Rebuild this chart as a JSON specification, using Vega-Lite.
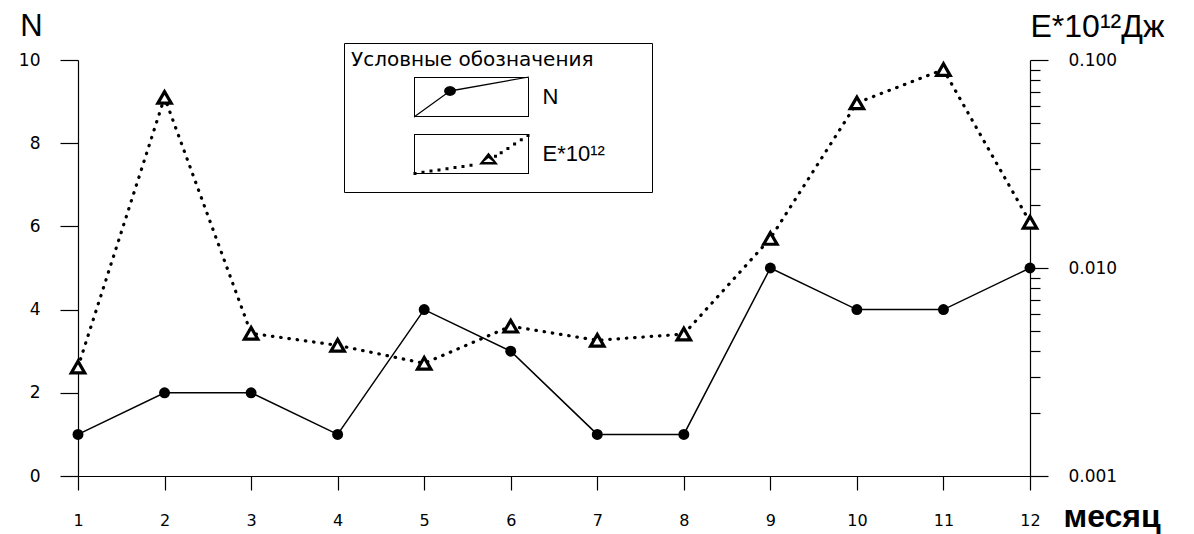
{
  "$schema": "https://vega.github.io/schema/vega-lite/v6.json",
  "width": 952,
  "height": 416,
  "autosize": {"type": "none"},
  "padding": {"left": 78, "top": 60, "right": 164, "bottom": 58},
  "background": "white",
  "config": {
    "view": {"stroke": null},
    "axis": {
      "grid": false,
      "domainColor": "black",
      "tickColor": "black",
      "labelColor": "black",
      "titleColor": "black",
      "labelFont": "DejaVu Sans",
      "domainWidth": 1.2,
      "tickWidth": 1.2
    }
  },
  "data": {
    "values": [
      {"month": 1, "N": 1, "E": 0.00334},
      {"month": 2, "N": 2, "E": 0.0661},
      {"month": 3, "N": 2, "E": 0.00485},
      {"month": 4, "N": 1, "E": 0.00425},
      {"month": 5, "N": 4, "E": 0.00348},
      {"month": 6, "N": 3, "E": 0.00525},
      {"month": 7, "N": 1, "E": 0.00449},
      {"month": 8, "N": 1, "E": 0.00481},
      {"month": 9, "N": 5, "E": 0.01387},
      {"month": 10, "N": 4, "E": 0.0622},
      {"month": 11, "N": 4, "E": 0.09},
      {"month": 12, "N": 5, "E": 0.0166}
    ]
  },
  "encoding": {
    "x": {
      "field": "month",
      "type": "quantitative",
      "scale": {"domain": [1, 12], "nice": false, "zero": false},
      "axis": {
        "values": [1, 2, 3, 4, 5, 6, 7, 8, 9, 10, 11, 12],
        "format": "d",
        "tickSize": 14,
        "labelPadding": 22,
        "labelFontSize": 16,
        "labelFlush": false,
        "labelOverlap": false,
        "title": "месяц",
        "titleFont": "Liberation Sans",
        "titleFontWeight": "bold",
        "titleFontSize": 32,
        "titleX": 985,
        "titleY": 50,
        "titleAlign": "left",
        "titleBaseline": "alphabetic"
      }
    }
  },
  "layer": [
    {
      "encoding": {
        "y": {
          "field": "N",
          "type": "quantitative",
          "scale": {"domain": [0, 10], "nice": false},
          "axis": {
            "orient": "left",
            "values": [0, 2, 4, 6, 8, 10],
            "tickSize": 18,
            "labelPadding": 20,
            "labelFontSize": 17,
            "labelFlush": false,
            "title": "N",
            "titleFont": "Liberation Sans",
            "titleFontSize": 31,
            "titleFontWeight": "normal",
            "titleAngle": 0,
            "titleX": -47,
            "titleY": -25,
            "titleAlign": "center",
            "titleBaseline": "alphabetic"
          }
        }
      },
      "layer": [
        {"mark": {"type": "line", "color": "black", "strokeWidth": 1.5}},
        {"mark": {"type": "point", "shape": "circle", "filled": true, "color": "black", "size": 120, "opacity": 1}},
        {
          "mark": {"type": "point", "filled": true, "color": "black", "opacity": 0},
          "encoding": {
            "shape": {
              "datum": "N",
              "type": "nominal",
              "scale": {
                "domain": ["N", "E*10¹²"],
                "range": [
                  "M-5.75,-2L5.75,-2L5.75,2L-5.75,2Z M-5.65,-1.9L-5.65,1.9L5.65,1.9L5.65,-1.9Z M17.35,0L17.35,0Z M-5.75,1.93L-2.15,-0.67L5.75,-2.06L5.75,-1.94L-2.15,-0.53L-5.75,2.07Z M-1.55,-0.6L-1.63,-0.35L-1.85,-0.17L-2.15,-0.1L-2.45,-0.17L-2.67,-0.35L-2.75,-0.6L-2.67,-0.85L-2.45,-1.03L-2.15,-1.1L-1.85,-1.03L-1.63,-0.85Z",
                  "M-5.75,-2L5.75,-2L5.75,2L-5.75,2Z M-5.65,-1.9L-5.65,1.9L5.65,1.9L5.65,-1.9Z M17.35,0L17.35,0Z M0,3.1L0,3.1Z M-5.8,1.8L-5.5,1.8L-5.5,2.1L-5.8,2.1Z M-5,1.68L-4.7,1.68L-4.7,1.98L-5,1.98Z M-4.2,1.56L-3.9,1.56L-3.9,1.86L-4.2,1.86Z M-3.4,1.44L-3.1,1.44L-3.1,1.74L-3.4,1.74Z M-2.6,1.32L-2.3,1.32L-2.3,1.62L-2.6,1.62Z M-1.8,1.21L-1.5,1.21L-1.5,1.51L-1.8,1.51Z M-1,1.09L-0.7,1.09L-0.7,1.39L-1,1.39Z M-0.2,0.97L0.1,0.97L0.1,1.27L-0.2,1.27Z M2.25,0.07L2.55,0.07L2.55,0.37L2.25,0.37Z M2.82,-0.28L3.12,-0.28L3.12,0.02L2.82,0.02Z M3.49,-0.71L3.79,-0.71L3.79,-0.41L3.49,-0.41Z M4.16,-1.14L4.46,-1.14L4.46,-0.84L4.16,-0.84Z M4.83,-1.57L5.13,-1.57L5.13,-1.27L4.83,-1.27Z M5.5,-2L5.8,-2L5.8,-1.7L5.5,-1.7Z M1.7,-0.15L2.65,1.05L0.75,1.05Z M1.7,0.4L1.2,0.8L2.2,0.8Z"
                ]
              },
              "legend": {
                "title": "Условные обозначения",
                "orient": "none",
                "legendX": 266,
                "legendY": -17,
                "padding": 7,
                "strokeColor": "black",
                "titleFont": "DejaVu Sans",
                "titleFontSize": 20,
                "titleFontWeight": "normal",
                "titleColor": "black",
                "titlePadding": 16,
                "titleLimit": 400,
                "labelFont": "Liberation Sans",
                "labelFontSize": 22,
                "labelColor": "black",
                "labelOffset": 60,
                "labelLimit": 300,
                "symbolSize": 400,
                "symbolOffset": 109.5,
                "symbolStrokeWidth": 0,
                "symbolFillColor": "black",
                "symbolStrokeColor": "transparent",
                "symbolOpacity": 1,
                "rowPadding": 16
              }
            }
          }
        },
        {
          "mark": {"type": "point", "filled": true, "color": "black", "opacity": 0},
          "encoding": {"shape": {"datum": "E*10¹²", "type": "nominal"}}
        }
      ]
    },
    {
      "resolve": {"axis": {"y": "independent"}},
      "layer": [
        {
          "mark": {"type": "line", "color": "black", "strokeWidth": 3.2, "strokeDash": [0.5, 7.8], "strokeCap": "round"},
          "encoding": {
            "y": {
              "field": "E",
              "type": "quantitative",
              "scale": {"type": "log", "domain": [0.001, 0.1], "nice": false},
              "axis": {
                "orient": "right",
                "values": [0.002, 0.003, 0.004, 0.005, 0.006, 0.007, 0.008, 0.009, 0.02, 0.03, 0.04, 0.05, 0.06, 0.07, 0.08, 0.09],
                "tickSize": 10,
                "labels": false,
                "domain": false,
                "title": null
              }
            }
          }
        },
        {
          "mark": {"type": "point", "shape": "triangle-up", "filled": false, "fill": "white", "stroke": "black", "strokeWidth": 3.2, "size": 180, "opacity": 1},
          "encoding": {
            "y": {
              "field": "E",
              "type": "quantitative",
              "scale": {"type": "log", "domain": [0.001, 0.1], "nice": false},
              "axis": {
                "orient": "right",
                "values": [0.001, 0.01, 0.1],
                "format": ".3f",
                "tickSize": 18,
                "labelPadding": 20,
                "labelFontSize": 17,
                "labelOverlap": false,
                "labelFlush": false,
                "title": "E*10¹²Дж",
                "titleFont": "Liberation Sans",
                "titleFontSize": 32,
                "titleFontWeight": "normal",
                "titleAngle": 0,
                "titleX": 0,
                "titleY": -24,
                "titleAlign": "left",
                "titleBaseline": "alphabetic"
              }
            }
          }
        }
      ]
    }
  ],
  "resolve": {"scale": {"y": "independent"}}
}
